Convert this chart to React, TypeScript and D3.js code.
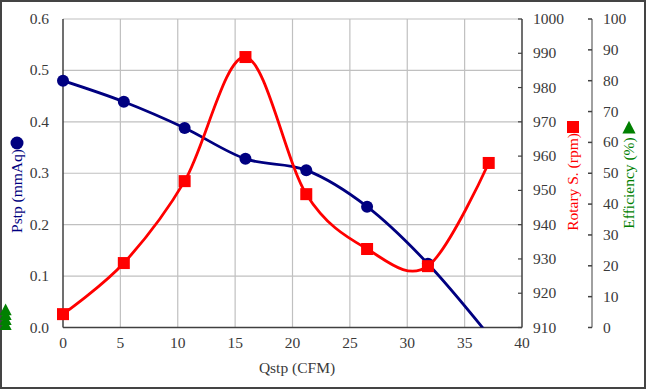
import React from "react";
import * as d3 from "d3";

// flow rate (CFM) for each measured point
const qstp = [0, 5.3, 10.6, 15.9, 21.2, 26.5, 31.8, 37.1];
// static pressure (mmAq) - last point runs just under zero and gets clipped
const pstp = [0.48, 0.439, 0.388, 0.328, 0.306, 0.235, 0.124, -0.015];
// rotary speed (rpm)
const rotary = [913.9, 928.8, 952.7, 988.9, 948.9, 932.9, 927.9, 958.0];
// efficiency (%) - plotted off to the left of the chart in the original
const effX = [-5, -5, -5, -5];
const efficiency = [0.8, 2.4, 4, 5.6];

const xTicks = [0, 5, 10, 15, 20, 25, 30, 35, 40];
const pTicks = [0, 0.1, 0.2, 0.3, 0.4, 0.5, 0.6];
const rTicks = [910, 920, 930, 940, 950, 960, 970, 980, 990, 1000];
const eTicks = [0, 10, 20, 30, 40, 50, 60, 70, 80, 90, 100];

const W = 647;
const H = 390;
const left = 63;
const right = 522;
const top = 19;
const bottom = 327.5;
const effAxisX = 592;

const FONT = "Liberation Serif";
const TXT = "#3a3a3a";
const NAVY = "#000080";
const RED = "#ff0000";
const GREEN = "#008000";

const App = () => {
  const x = d3.scaleLinear().domain([0, 40]).range([left, right]);
  const yP = d3.scaleLinear().domain([0, 0.6]).range([bottom, top]);
  const yR = d3.scaleLinear().domain([910, 1000]).range([bottom, top]);
  const yE = d3.scaleLinear().domain([0, 100]).range([bottom, top]);

  const pLine = d3
    .line<number>()
    .x((d, i) => x(qstp[i]))
    .y((d) => yP(d))
    .curve(d3.curveCardinal);

  const rLine = d3
    .line<number>()
    .x((d, i) => x(qstp[i]))
    .y((d) => yR(d))
    .curve(d3.curveCardinal);

  const tri = (cx: number, cy: number, s: number) =>
    `M${cx},${cy - s * 0.6}L${cx + s * 0.55},${cy + s * 0.45}L${cx - s * 0.55},${cy + s * 0.45}Z`;

  return (
    <svg width={W} height={H} style={{ position: "absolute", left: 0, top: 0, background: "#fff" }}>
      <defs>
        <clipPath id="plot">
          <rect x={left} y={top} width={right - left} height={bottom - top} />
        </clipPath>
      </defs>
      <rect x={1} y={1} width={W - 3} height={H - 3} fill="#fff" stroke="#444" strokeWidth={2} />

      {/* grid */}
      {xTicks.slice(1, -1).map((t) => (
        <line key={"gx" + t} x1={x(t)} x2={x(t)} y1={top} y2={bottom} stroke="#c0c0c0" strokeWidth={1.2} />
      ))}
      {pTicks.slice(1).map((t) => (
        <line key={"gy" + t} x1={left} x2={right} y1={yP(t)} y2={yP(t)} stroke="#c0c0c0" strokeWidth={1.2} />
      ))}

      {/* axes */}
      <line x1={left} x2={left} y1={top} y2={bottom} stroke="#404040" strokeWidth={1.5} />
      <line x1={left} x2={right} y1={bottom} y2={bottom} stroke="#404040" strokeWidth={1.5} />
      <line x1={right} x2={right} y1={top} y2={bottom} stroke="#404040" strokeWidth={1.5} />
      {rTicks.map((t) => (
        <line key={"rt" + t} x1={right - 4} x2={right} y1={yR(t)} y2={yR(t)} stroke="#404040" strokeWidth={1.2} />
      ))}
      <line x1={effAxisX} x2={effAxisX} y1={top} y2={bottom} stroke="#808080" strokeWidth={1.5} />
      {eTicks.map((t) => (
        <line key={"et" + t} x1={effAxisX - 4} x2={effAxisX} y1={yE(t)} y2={yE(t)} stroke="#404040" strokeWidth={1.5} />
      ))}

      {/* tick labels */}
      <g fontSize={15.5} fill={TXT} fontFamily={FONT}>
        {xTicks.map((t) => (
          <text key={"xl" + t} x={x(t)} y={348} textAnchor="middle">
            {t}
          </text>
        ))}
        {pTicks.map((t) => (
          <text key={"pl" + t} x={49} y={yP(t) + 5} textAnchor="end">
            {d3.format(".1f")(t)}
          </text>
        ))}
        {rTicks.map((t) => (
          <text key={"rl" + t} x={533} y={yR(t) + 5}>
            {t}
          </text>
        ))}
        {eTicks.map((t) => (
          <text key={"el" + t} x={603} y={yE(t) + 5}>
            {t}
          </text>
        ))}
      </g>

      {/* axis titles */}
      <g fontSize={15.5} fontFamily={FONT}>
        <text x={297} y={373} textAnchor="middle" fill={TXT}>
          Qstp (CFM)
        </text>
        <text transform="translate(22,191) rotate(-90)" textAnchor="middle" fill={NAVY}>
          Pstp (mmAq)
        </text>
        <text transform="translate(578,182) rotate(-90)" textAnchor="middle" fill={RED}>
          Rotary S. (rpm)
        </text>
        <text transform="translate(634,183) rotate(-90)" textAnchor="middle" fill={GREEN}>
          Efficiency (%)
        </text>
      </g>
      <circle cx={17} cy={143} r={6.5} fill={NAVY} />
      <rect x={567} y={121} width={12} height={12} fill={RED} />
      <path d={tri(629, 128, 12)} fill={GREEN} />

      {/* series */}
      <g clipPath="url(#plot)">
        <path d={pLine(pstp) || ""} fill="none" stroke={NAVY} strokeWidth={2.8} />
        <path d={rLine(rotary) || ""} fill="none" stroke={RED} strokeWidth={2.8} />
      </g>
      {pstp.map((d, i) =>
        d >= 0 ? <circle key={"pc" + i} cx={x(qstp[i])} cy={yP(d)} r={6} fill={NAVY} /> : null
      )}
      {rotary.map((d, i) => (
        <rect key={"rs" + i} x={x(qstp[i]) - 6} y={yR(d) - 6} width={12} height={12} fill={RED} />
      ))}
      {efficiency.map((d, i) => (
        <path key={"ef" + i} d={tri(x(effX[i]), yE(d), 11)} fill={GREEN} />
      ))}
    </svg>
  );
};

export default App;
